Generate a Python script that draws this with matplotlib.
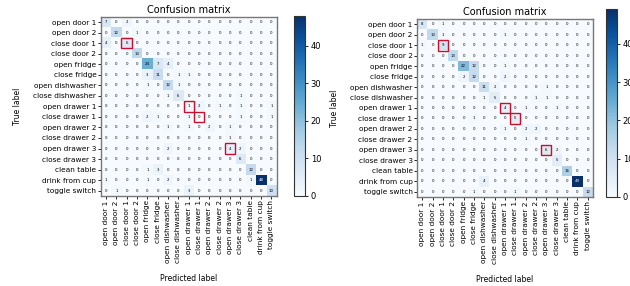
import numpy as np
import matplotlib
matplotlib.use("Agg")
import matplotlib.pyplot as plt
from matplotlib.patches import Rectangle

# Class names (same for both matrices)
labels = ["open door 1", "open door 2", "close door 1", "close door 2",
          "open fridge", "close fridge", "open dishwasher", "close dishwasher",
          "open drawer 1", "close drawer 1", "open drawer 2", "close drawer 2",
          "open drawer 3", "close drawer 3", "clean table", "drink from cup",
          "toggle switch"]

# Left confusion matrix
cm_left = [
    [7, 0, 2, 0, 0, 0, 0, 0, 0, 0, 0, 0, 0, 0, 0, 0, 0],
    [0, 12, 0, 1, 0, 0, 0, 0, 0, 0, 0, 0, 0, 0, 0, 0, 0],
    [4, 0, 6, 0, 0, 0, 0, 0, 0, 0, 0, 0, 0, 0, 0, 0, 0],
    [0, 0, 0, 13, 0, 0, 0, 0, 0, 0, 0, 0, 0, 0, 0, 0, 0],
    [0, 0, 0, 0, 24, 7, 4, 0, 0, 0, 0, 0, 0, 0, 0, 0, 0],
    [0, 0, 0, 0, 3, 11, 0, 1, 1, 0, 0, 0, 0, 0, 0, 0, 0],
    [0, 0, 0, 0, 1, 0, 12, 1, 0, 0, 0, 0, 0, 0, 0, 0, 0],
    [0, 0, 0, 0, 0, 0, 1, 6, 0, 0, 0, 0, 0, 1, 0, 0, 0],
    [0, 0, 0, 0, 0, 0, 0, 0, 1, 2, 0, 1, 0, 1, 0, 0, 1],
    [0, 0, 0, 0, 2, 1, 0, 0, 1, 0, 0, 0, 0, 1, 0, 0, 1],
    [0, 0, 0, 0, 0, 0, 1, 0, 1, 0, 2, 0, 1, 0, 0, 0, 0],
    [0, 0, 0, 0, 0, 0, 0, 0, 0, 0, 0, 0, 1, 0, 0, 0, 0],
    [0, 0, 0, 0, 0, 0, 2, 0, 0, 0, 0, 0, 4, 2, 0, 0, 0],
    [0, 0, 0, 0, 0, 0, 0, 0, 0, 0, 0, 0, 0, 6, 0, 0, 0],
    [0, 0, 0, 0, 1, 3, 0, 0, 0, 0, 0, 0, 0, 0, 12, 0, 0],
    [1, 0, 0, 0, 1, 0, 2, 0, 0, 0, 0, 0, 0, 0, 1, 48, 0],
    [0, 1, 0, 0, 0, 0, 0, 0, 3, 0, 0, 0, 0, 0, 0, 0, 10],
]

# Right confusion matrix
cm_right = [
    [8, 0, 1, 0, 0, 0, 0, 0, 0, 0, 0, 0, 0, 0, 0, 0, 0],
    [0, 13, 1, 0, 0, 0, 0, 0, 1, 0, 0, 0, 0, 0, 0, 0, 0],
    [1, 0, 9, 0, 0, 0, 0, 0, 0, 0, 0, 0, 0, 0, 0, 0, 0],
    [0, 0, 0, 13, 0, 0, 0, 0, 0, 0, 0, 0, 0, 0, 0, 0, 0],
    [0, 0, 0, 0, 22, 12, 0, 0, 1, 0, 0, 0, 0, 0, 0, 0, 0],
    [0, 0, 0, 0, 2, 12, 0, 0, 2, 0, 0, 0, 0, 0, 0, 0, 0],
    [0, 0, 0, 0, 0, 0, 11, 2, 0, 0, 0, 0, 1, 0, 0, 0, 0],
    [0, 0, 0, 0, 0, 0, 1, 5, 0, 0, 0, 1, 1, 0, 0, 0, 0],
    [0, 0, 0, 0, 0, 0, 0, 0, 4, 0, 1, 0, 0, 1, 0, 0, 0],
    [0, 0, 0, 0, 0, 1, 0, 0, 0, 5, 0, 0, 0, 0, 0, 0, 0],
    [0, 0, 0, 0, 0, 0, 0, 0, 1, 0, 2, 2, 0, 0, 0, 0, 0],
    [0, 0, 0, 0, 0, 0, 0, 0, 0, 0, 1, 0, 0, 0, 0, 0, 0],
    [0, 0, 0, 0, 0, 0, 0, 0, 0, 0, 0, 0, 6, 2, 0, 0, 0],
    [0, 0, 0, 0, 0, 0, 0, 0, 0, 0, 0, 0, 0, 5, 0, 0, 0],
    [0, 0, 0, 0, 0, 0, 0, 0, 0, 0, 0, 0, 0, 0, 16, 0, 0],
    [0, 0, 0, 0, 0, 0, 4, 0, 0, 0, 0, 0, 0, 0, 0, 49, 0],
    [0, 0, 0, 0, 0, 1, 0, 0, 0, 1, 0, 0, 0, 0, 0, 0, 12],
]

# Cells highlighted with a red box
highlight = [2, 8, 9, 12]

fig = plt.figure(figsize=(6.3, 2.86), dpi=100)


def draw_cm(ax, cax, cm):
    cm = np.array(cm)
    im = ax.imshow(cm, interpolation="nearest", cmap="Blues", aspect="auto")
    ax.set_title("Confusion matrix", fontsize=7, pad=3)
    cb = fig.colorbar(im, cax=cax)
    cb.ax.tick_params(labelsize=6, length=2.5, width=0.6, pad=1.5)
    cb.outline.set_linewidth(0.8)
    cb.outline.set_edgecolor("#333333")

    n = len(labels)
    ticks = np.arange(n)
    ax.set_xticks(ticks)
    ax.set_xticklabels(labels, rotation=90, fontsize=5.3)
    ax.set_yticks(ticks)
    ax.set_yticklabels(labels, fontsize=5.3)
    ax.tick_params(length=2, width=0.6, pad=1.2)

    thresh = cm.max() / 2.0
    for i in range(n):
        for j in range(n):
            ax.text(j, i, str(cm[i, j]), ha="center", va="center", fontsize=2.8,
                    color="white" if cm[i, j] > thresh else "black")

    for k in highlight:
        ax.add_patch(Rectangle((k - 0.5, k - 0.5), 1, 1, fill=False,
                               edgecolor="#c8102e", linewidth=1.0))

    for s in ax.spines.values():
        s.set_edgecolor("#777777")
        s.set_linewidth(1.0)

    ax.set_ylabel("True label", fontsize=5.5, labelpad=8)
    ax.set_xlabel("Predicted label", fontsize=5.5, labelpad=8)


ax1 = fig.add_axes([0.160, 0.315, 0.279, 0.626])
cax1 = fig.add_axes([0.467, 0.315, 0.0175, 0.630])
draw_cm(ax1, cax1, cm_left)

ax2 = fig.add_axes([0.662, 0.312, 0.279, 0.621])
cax2 = fig.add_axes([0.962, 0.312, 0.0175, 0.655])
draw_cm(ax2, cax2, cm_right)

fig.savefig("out.png", dpi=100)
